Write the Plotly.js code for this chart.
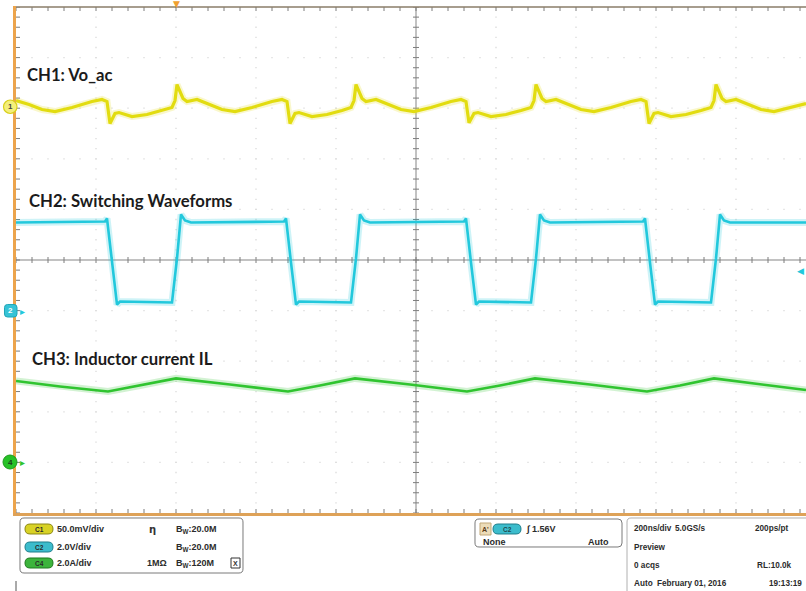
<!DOCTYPE html>
<html>
<head>
<meta charset="utf-8">
<script src="https://cdn.plot.ly/plotly-3.0.1.min.js"></script>
<style>
html,body{margin:0;padding:0;background:#ffffff;overflow:hidden;}
#chart{width:806px;height:591px;}
</style>
</head>
<body>
<div id="chart"></div>
<script>
// ---------------- DATA ----------------
// Time axis: ns, 200 ns/div, trigger at 0
// CH1 Vo_ac (mV, AC ripple), 50 mV/div
const ch1Time = [-1000, -967.5, -935, -902.5, -860, -810, -785, -772.5, -765, -752.5, -742.5, -710, -672.5, -635, -610, -602.5, -597.5, -582.5, -572.5, -547.5, -517.5, -485, -452.5, -410, -360, -335, -322.5, -315, -302.5, -292.5, -260, -222.5, -185, -162.5, -155, -150, -135, -125, -100, -70, -37.5, -5, 37.5, 87.5, 112.5, 125, 132.5, 145, 155, 187.5, 225, 262.5, 287.5, 295, 300, 315, 325, 350, 380, 412.5, 445, 487.5, 537.5, 562.5, 575, 582.5, 595, 605, 637.5, 675, 712.5, 737.5, 745, 750, 765, 775, 800, 830, 862.5, 895, 937.5, 975];
const ch1Value = [7.6, 3.7, -1.3, -3.3, 0.7, 6.6, 8.6, 6.6, -15.1, -5.2, -4.3, -8.2, -6.2, -2.3, 0.7, 7.6, 23.4, 9.6, 6.6, 8.6, 3.7, -1.3, -3.3, 0.7, 6.6, 8.6, 6.6, -15.1, -5.2, -4.3, -8.2, -6.2, -2.3, 0.7, 7.6, 23.4, 9.6, 6.6, 8.6, 3.7, -1.3, -3.3, 0.7, 6.6, 8.6, 6.6, -14.5, -5.2, -4.3, -8.2, -6.2, -2.3, 0.7, 7.6, 23.4, 9.6, 6.6, 8.6, 3.7, -1.3, -3.3, 0.7, 6.6, 8.6, 6.6, -15.1, -5.2, -4.3, -8.2, -6.2, -2.3, 0.7, 7.6, 23.4, 9.6, 6.6, 8.6, 3.7, -1.3, -3.3, 0.7, 4.6];

// CH2 switching node (V), 2 V/div
const ch2Time = [-1000, -777.5, -772.5, -760, -747.5, -740, -610, -597.5, -587.5, -577.5, -562.5, -330, -325, -312.5, -300, -292.5, -162.5, -150, -140, -130, -115, 120, 125, 137.5, 150, 157.5, 287.5, 300, 310, 320, 335, 567.5, 572.5, 585, 597.5, 605, 737.5, 750, 760, 770, 785, 975];
const ch2Value = [3.48, 3.52, 3.64, 1.90, 0.24, 0.36, 0.32, 2.06, 3.80, 3.56, 3.48, 3.52, 3.64, 1.90, 0.24, 0.36, 0.32, 2.06, 3.80, 3.56, 3.48, 3.52, 3.64, 1.90, 0.24, 0.36, 0.32, 2.06, 3.80, 3.56, 3.48, 3.52, 3.64, 1.90, 0.24, 0.36, 0.32, 2.06, 3.80, 3.56, 3.48, 3.48];

// CH3 (scope C4) inductor current (A), 2 A/div
const ch3Time = [-1000, -890, -770, -690, -600, -465, -320, -240, -152.5, -15, 127.5, 210, 297.5, 435, 577.5, 660, 745, 885, 975];
const ch3Value = [3.22, 3.00, 2.80, 3.04, 3.32, 3.08, 2.80, 3.04, 3.32, 3.08, 2.80, 3.04, 3.32, 3.08, 2.80, 3.04, 3.32, 3.04, 2.86];

// Channel settings (units per division, ground marker position in divisions)
const chScale  = [50, 2, 2];
const chOffset = [3, -1, -4];
const chColor  = ['#e2dc10', '#22c8dc', '#30c430'];
const chNames  = ['CH1: Vo_ac', 'CH2: Switching Waveforms', 'CH3: Inductor current IL'];
const chTags   = ['C1', 'C2', 'C4'];
const chMarks  = ['1', '2', '4'];
const scaleLabels = ['50.0mV/div', '2.0V/div', '2.0A/div'];
const bwLabels    = ['B<sub>W</sub>:20.0M', 'B<sub>W</sub>:20.0M', 'B<sub>W</sub>:120M'];
const triggerLevelV = 1.56;
const triggerLabel = '1.56V';
const timebaseRow = ['200ns/div', '5.0GS/s', '200ps/pt'];
const acqRow = ['Preview', '0 acqs', 'RL:10.0k'];
const dateRow = ['Auto', 'February 01, 2016', '19:13:19'];

// ---------------- GEOMETRY ----------------
const W = 806, H = 591;
const plotL = 16, plotT = 7, plotR = 806, plotB = 513;
const plotW = plotR - plotL, plotH = plotB - plotT;
const xRange = [-1000, 975];
const yRange = [-5, 5];
const nsPerPx = (xRange[1] - xRange[0]) / plotW;
const divPerPx = (yRange[1] - yRange[0]) / plotH;
const xp = px => (px - plotL) / plotW;
const yp = py => (plotB - py) / plotH;

const toDiv = (vals, i) => vals.map(v => chOffset[i] + v / chScale[i]);

// ---------------- TRACES ----------------
const traces = [];

// dotted graticule
const gx = [], gy = [];
for (let k = -4; k <= 4; k++) {
  if (k === 0) continue;
  for (let j = 0; j <= 50; j++) { gx.push(k * 200); gy.push(-5 + j * 0.2); }
}
for (let k = -4; k <= 4; k++) {
  if (k === 0) continue;
  for (let j = 0; j <= 49; j++) { gx.push(-1000 + j * 40); gy.push(k); }
}
traces.push({x: gx, y: gy, mode: 'markers', type: 'scatter', hoverinfo: 'skip',
  marker: {symbol: 'square', size: 1.3, color: '#dadada', line: {width: 0}}});

// tick marks
const tx = [], ty = [];
for (let j = 0; j <= 49; j++) {
  const t = -1000 + j * 40;
  tx.push(t, t, null); ty.push(5, 5 - 4 * divPerPx, null);
  tx.push(t, t, null); ty.push(-5, -5 + 4 * divPerPx, null);
  tx.push(t, t, null); ty.push(-3 * divPerPx, 3 * divPerPx, null);
}
for (let j = 0; j <= 50; j++) {
  const v = -5 + j * 0.2;
  tx.push(-1000, -1000 + 4 * nsPerPx, null); ty.push(v, v, null);
  tx.push(-3 * nsPerPx, 3 * nsPerPx, null); ty.push(v, v, null);
}
traces.push({x: tx, y: ty, mode: 'lines', type: 'scatter', hoverinfo: 'skip',
  line: {color: '#7d7d7d', width: 1}});

// waveforms
const series = [[ch1Time, ch1Value], [ch2Time, ch2Value], [ch3Time, ch3Value]];
const mainWidth = [3.2, 2.6, 2.6];
series.forEach((s, i) => {
  const yd = toDiv(s[1], i);
  traces.push({x: s[0], y: yd, mode: 'lines', type: 'scatter', hoverinfo: 'skip',
    line: {color: chColor[i], width: 7}, opacity: 0.22});
  traces.push({x: s[0], y: yd, mode: 'lines', type: 'scatter', hoverinfo: 'skip',
    line: {color: chColor[i], width: mainWidth[i]}});
});

// ---------------- SHAPES ----------------
function rr(x0, y0, x1, y1, r) {
  const X = v => xp(v).toFixed(5), Y = v => yp(v).toFixed(5);
  return 'M' + X(x0 + r) + ',' + Y(y0) +
    ' L' + X(x1 - r) + ',' + Y(y0) + ' Q' + X(x1) + ',' + Y(y0) + ' ' + X(x1) + ',' + Y(y0 + r) +
    ' L' + X(x1) + ',' + Y(y1 - r) + ' Q' + X(x1) + ',' + Y(y1) + ' ' + X(x1 - r) + ',' + Y(y1) +
    ' L' + X(x0 + r) + ',' + Y(y1) + ' Q' + X(x0) + ',' + Y(y1) + ' ' + X(x0) + ',' + Y(y1 - r) +
    ' L' + X(x0) + ',' + Y(y0 + r) + ' Q' + X(x0) + ',' + Y(y0) + ' ' + X(x0 + r) + ',' + Y(y0) + ' Z';
}
const P = {xref: 'paper', yref: 'paper'};
const shapes = [
  {type: 'line', xref: 'x', yref: 'y', x0: 0, x1: 0, y0: -5, y1: 5, line: {color: '#858585', width: 1}, layer: 'below'},
  {type: 'line', xref: 'x', yref: 'y', x0: -1000, x1: 975, y0: 0, y1: 0, line: {color: '#858585', width: 1}, layer: 'below'},
  Object.assign({type: 'line', x0: xp(14), x1: xp(806), y0: yp(7), y1: yp(7), line: {color: '#8a7c68', width: 1.5}}, P),
  Object.assign({type: 'line', x0: xp(14.5), x1: xp(14.5), y0: yp(6), y1: yp(516), line: {color: '#eca44c', width: 3}}, P),
  Object.assign({type: 'line', x0: xp(13), x1: xp(806), y0: yp(514.5), y1: yp(514.5), line: {color: '#dea258', width: 3}}, P),
  Object.assign({type: 'path', path: rr(20, 518, 243, 573, 4), line: {color: '#7a7a7a', width: 1}}, P),
  Object.assign({type: 'path', path: rr(475, 519, 622, 547, 4), line: {color: '#7a7a7a', width: 1}}, P),
  Object.assign({type: 'path', path: rr(627, 518, 820, 600, 4), line: {color: '#b0b0b0', width: 1}}, P),
  Object.assign({type: 'line', x0: xp(16), x1: xp(16), y0: yp(581), y1: yp(592), line: {color: '#555', width: 1}}, P),
  Object.assign({type: 'circle', x0: xp(3.5), x1: xp(17), y0: yp(100), y1: yp(113.5), fillcolor: '#f4ef7a', line: {color: '#d8cf1a', width: 1.2}}, P),
  Object.assign({type: 'path', path: rr(4.5, 304.5, 17, 317, 3), fillcolor: '#36c3d6', line: {color: '#1fa6b8', width: 1}}, P),
  Object.assign({type: 'circle', x0: xp(3), x1: xp(17), y0: yp(455), y1: yp(469), fillcolor: '#27c227', line: {color: '#1c9a1c', width: 1}}, P),
  Object.assign({type: 'path', path: rr(25, 524, 53, 534, 5), fillcolor: '#d8d226', line: {color: '#8c8814', width: 1}}, P),
  Object.assign({type: 'path', path: rr(25, 542, 53, 552, 5), fillcolor: '#3cbccc', line: {color: '#1f7f8c', width: 1}}, P),
  Object.assign({type: 'path', path: rr(25, 558, 53, 568, 5), fillcolor: '#3cb43c', line: {color: '#1f7a1f', width: 1}}, P),
  Object.assign({type: 'path', path: rr(493, 524, 521, 534, 5), fillcolor: '#3cbccc', line: {color: '#1f7f8c', width: 1}}, P),
  Object.assign({type: 'rect', x0: xp(480), x1: xp(491), y0: yp(523), y1: yp(535), fillcolor: '#ecdcb8', line: {color: '#c2a878', width: 1}}, P),
  Object.assign({type: 'rect', x0: xp(231), x1: xp(240), y0: yp(558), y1: yp(568), fillcolor: 'rgba(0,0,0,0)', line: {color: '#333', width: 1}}, P)
];

// ---------------- ANNOTATIONS ----------------
const PANEL_FONT = 'Liberation Sans, Arial, sans-serif';
function txt(px, py, text, size, color, anchor, family) {
  return {xref: 'paper', yref: 'paper', x: xp(px), y: yp(py), xanchor: anchor || 'left', yanchor: 'middle',
    text: text, showarrow: false, borderpad: 0,
    font: {family: family || PANEL_FONT, size: size || 9, color: color || '#2b2b2b'}};
}
const ann = [];
const labelPos = [[26, 75], [28, 201], [31, 359]];
chNames.forEach((n, i) => ann.push(txt(labelPos[i][0], labelPos[i][1], '<b>' + n + '</b>', 16.7, '#1b1b1b', 'left', 'Lato, Open Sans, sans-serif')));
const markPos = [[10.3, 106.8], [10.8, 310.8], [10, 462]];
const markColor = ['#444', '#ffffff', '#1d3d1d'];
chMarks.forEach((m, i) => ann.push(txt(markPos[i][0], markPos[i][1], '<b>' + m + '</b>', 8, markColor[i], 'center')));
ann.push(txt(22, 311, '▸', 10, chColor[1], 'center', 'DejaVu Sans'));
ann.push(txt(22, 462, '▸', 10, chColor[2], 'center', 'DejaVu Sans'));
ann.push({xref: 'x', yref: 'paper', x: -600, y: yp(4), xanchor: 'center', yanchor: 'middle', text: '▼', showarrow: false,
  font: {family: 'DejaVu Sans', size: 9, color: '#f0a030'}, borderpad: 0});
ann.push({xref: 'paper', yref: 'y', x: xp(800), y: chOffset[1] + triggerLevelV / chScale[1], xanchor: 'center', yanchor: 'middle', text: '◀',
  showarrow: false, font: {family: 'DejaVu Sans', size: 9, color: chColor[1]}, borderpad: 0});
// bottom panel, box 1
const rowY = [529, 547, 563];
chTags.forEach((t, i) => ann.push(txt(39, rowY[i], '<b>' + t + '</b>', 6.5, '#2a2a2a', 'center')));
scaleLabels.forEach((s, i) => ann.push(txt(56, rowY[i], '<b>' + s + '</b>', 9)));
ann.push(txt(148, rowY[0], '<b>η</b>', 10, '#333', 'left', 'DejaVu Sans'));
bwLabels.forEach((s, i) => ann.push(txt(175, rowY[i], '<b>' + s + '</b>', 9)));
ann.push(txt(146, rowY[2], '<b>1MΩ</b>', 9));
ann.push(txt(235.5, rowY[2], '<b>X</b>', 7, '#333', 'center'));
// box 2 (trigger)
ann.push(txt(485.5, 529, "<b>A'</b>", 7, '#5a3a1a', 'center'));
ann.push(txt(507, 529, '<b>' + chTags[1] + '</b>', 6.5, '#1e4a50', 'center'));
ann.push(txt(525, 529, '<b>∫ ' + triggerLabel + '</b>', 9));
ann.push(txt(482, 542, '<b>None</b>', 9));
ann.push(txt(587, 542, '<b>Auto</b>', 9));
// box 3 (timebase)
const F3 = 8.2;
ann.push(txt(633, 528, '<b>' + timebaseRow[0] + '</b>', F3));
ann.push(txt(674, 528, '<b>' + timebaseRow[1] + '</b>', F3));
ann.push(txt(754, 528, '<b>' + timebaseRow[2] + '</b>', F3));
ann.push(txt(633, 547, '<b>' + acqRow[0] + '</b>', F3));
ann.push(txt(633, 565, '<b>' + acqRow[1] + '</b>', F3));
ann.push(txt(756, 565, '<b>' + acqRow[2] + '</b>', F3));
ann.push(txt(633, 583, '<b>' + dateRow[0] + '</b>', F3));
ann.push(txt(656, 583, '<b>' + dateRow[1] + '</b>', F3));
ann.push(txt(768, 583, '<b>' + dateRow[2] + '</b>', F3));

const axisCommon = {showgrid: false, zeroline: false, showticklabels: false, ticks: '', showline: false, fixedrange: true};
const layout = {
  width: W, height: H,
  margin: {l: plotL, r: W - plotR, t: plotT, b: H - plotB, pad: 0},
  paper_bgcolor: '#ffffff', plot_bgcolor: '#ffffff',
  showlegend: false,
  xaxis: Object.assign({range: xRange}, axisCommon),
  yaxis: Object.assign({range: yRange}, axisCommon),
  shapes: shapes,
  annotations: ann
};
Plotly.newPlot('chart', traces, layout, {staticPlot: true, displayModeBar: false});
</script>
</body>
</html>
